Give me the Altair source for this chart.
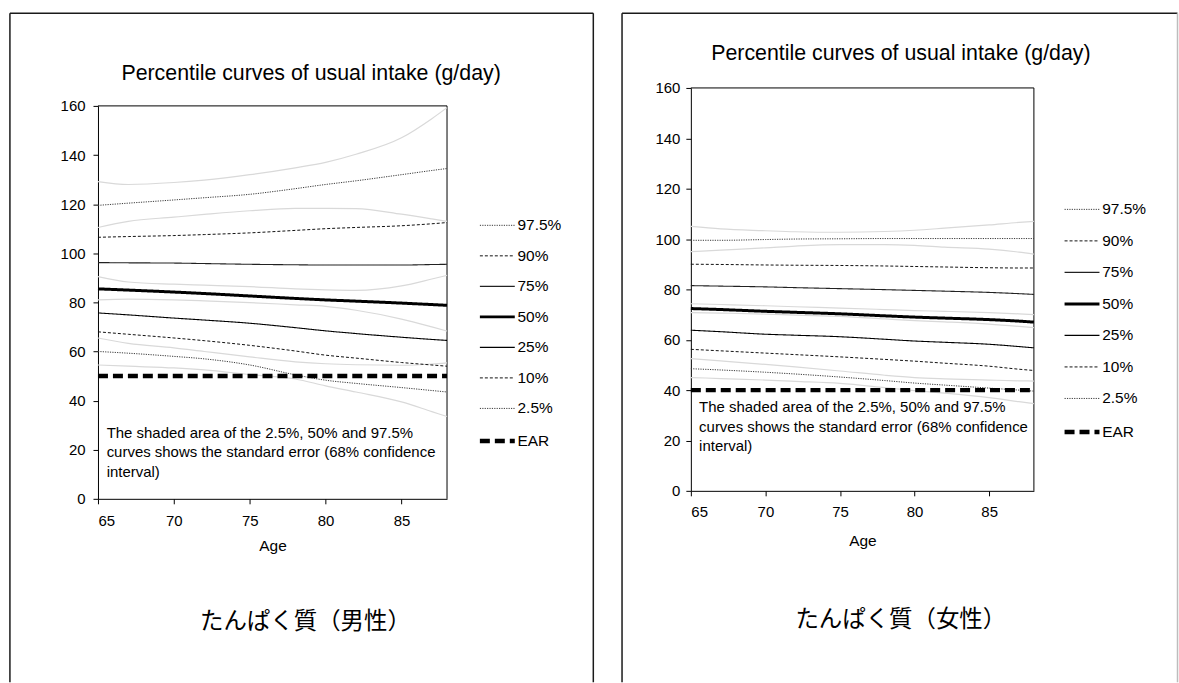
import altair as alt
import pandas as pd

# ---- shared axes / labels -------------------------------------------------
AGES = [65, 67, 70, 72, 75, 78, 80, 82, 85, 87, 88]
LEVELS = ["97.5%", "90%", "75%", "50%", "25%", "10%", "2.5%"]
SERIES = LEVELS + ["EAR"]
X_TICKS = [65, 70, 75, 80, 85]
Y_TICKS = [0, 20, 40, 60, 80, 100, 120, 140, 160]

TITLE = "Percentile curves of usual intake (g/day)"
NOTE = ("The shaded area of the 2.5%, 50% and 97.5%\n"
        "curves shows the standard error (68% confidence\n"
        "interval)")
LABEL_MEN = "たんぱく質（男性）"
LABEL_WOMEN = "たんぱく質（女性）"

# ---- men: percentile curves (g/day) ---------------------------------------
men_p975 = [119.5, 120.4, 121.7, 122.6, 124.0, 126.3, 128.0, 129.5, 132.0, 133.7, 134.5]
men_p90 = [106.5, 106.8, 107.2, 107.6, 108.3, 109.3, 110.0, 110.5, 111.2, 112.0, 112.5]
men_p75 = [96.2, 96.1, 96.0, 95.8, 95.5, 95.3, 95.2, 95.2, 95.2, 95.4, 95.5]
men_p50 = [85.5, 85.0, 84.2, 83.6, 82.6, 81.6, 81.0, 80.5, 79.7, 79.1, 78.8]
men_p25 = [75.7, 74.9, 73.6, 72.8, 71.5, 69.7, 68.4, 67.3, 65.8, 64.9, 64.5]
men_p10 = [68.0, 67.0, 65.5, 64.4, 62.5, 60.2, 58.5, 57.3, 55.5, 54.5, 54.0]
men_p025 = [60.0, 59.3, 58.0, 57.0, 54.5, 50.5, 48.3, 47.0, 45.3, 44.1, 43.5]
men_ear = 50

# men: standard-error bounds
men_p975_hi = [129.2, 128.0, 128.8, 129.8, 132.0, 134.8, 137.0, 140.3, 147.0, 154.8, 159.3]
men_p975_lo = [110.5, 113.0, 114.7, 115.8, 117.3, 118.3, 118.3, 118.2, 115.9, 114.0, 113.0]
men_p50_hi = [90.5, 88.3, 87.4, 87.0, 86.4, 85.5, 85.1, 84.9, 86.7, 89.5, 91.0]
men_p50_lo = [81.0, 81.3, 81.0, 80.6, 79.9, 79.0, 78.4, 76.8, 73.2, 70.0, 68.3]
men_p025_hi = [65.5, 63.3, 61.5, 60.0, 57.8, 55.8, 55.0, 54.6, 54.4, 54.9, 55.4]
men_p025_lo = [54.5, 54.0, 53.3, 52.5, 50.6, 48.8, 46.0, 43.5, 39.5, 35.5, 33.5]

# ---- women: percentile curves (g/day) -------------------------------------
women_p975 = [99.5, 99.5, 99.8, 100.0, 100.1, 100.2, 100.2, 100.2, 100.2, 100.2, 100.2]
women_p90 = [90.0, 89.9, 89.7, 89.6, 89.5, 89.3, 89.1, 88.9, 88.6, 88.5, 88.5]
women_p75 = [81.5, 81.3, 81.0, 80.7, 80.3, 79.9, 79.6, 79.3, 78.8, 78.3, 78.0]
women_p50 = [72.4, 72.0, 71.3, 70.9, 70.3, 69.5, 69.0, 68.6, 68.0, 67.4, 67.0]
women_p25 = [63.8, 63.2, 62.2, 61.8, 61.2, 60.2, 59.5, 59.0, 58.2, 57.3, 56.8]
women_p10 = [56.2, 55.6, 54.7, 54.1, 53.2, 52.2, 51.5, 50.7, 49.5, 48.3, 47.8]
women_p025 = [48.5, 48.0, 47.1, 46.4, 45.2, 43.8, 42.8, 42.0, 40.8, 40.0, 39.6]
women_ear = 40

# women: standard-error bounds
women_p975_hi = [105.0, 104.0, 103.3, 102.9, 102.7, 103.0, 103.5, 104.3, 105.6, 106.6, 107.0]
women_p975_lo = [95.0, 95.6, 96.5, 97.2, 97.8, 97.8, 97.5, 96.8, 96.0, 94.8, 94.0]
women_p50_hi = [74.3, 74.0, 73.5, 73.1, 72.6, 72.0, 71.6, 71.3, 70.8, 70.3, 70.0]
women_p50_lo = [70.8, 70.6, 70.2, 69.8, 69.3, 68.3, 67.6, 67.1, 66.2, 65.3, 64.8]
women_p025_hi = [52.5, 51.6, 50.2, 49.2, 47.6, 45.9, 45.0, 44.5, 44.0, 43.7, 43.6]
women_p025_lo = [45.0, 44.6, 44.0, 43.5, 42.7, 41.0, 39.8, 38.8, 37.0, 35.4, 34.6]

# ---- line styles per series -----------------------------------------------
STYLE_COLOR = ["#3a3a3a", "#111111", "#222222", "#000000", "#000000", "#111111", "#3a3a3a", "#000000"]
STYLE_DASH = [[1.2, 1.2], [3, 2], [1, 0], [1, 0], [1, 0], [3, 2], [1.2, 1.2], [10, 5]]
STYLE_WIDTH = [1, 1, 1.1, 3, 1.1, 1, 1, 4.5]
SE_COLOR = "#d9d9d9"

FONT = "Liberation Sans"
CJK_FONT = "Noto Sans CJK JP"


def curve_table(values, ear):
    rows = []
    for name, vals in zip(LEVELS, values):
        for a, v in zip(AGES, vals):
            rows.append({"age": a, "value": v, "series": name})
    for a in (AGES[0], AGES[-1]):
        rows.append({"age": a, "value": ear, "series": "EAR"})
    return pd.DataFrame(rows)


def bound_table(bounds):
    rows = []
    for name, vals in bounds.items():
        for a, v in zip(AGES, vals):
            rows.append({"age": a, "value": v, "bound": name})
    return pd.DataFrame(rows)


def panel(curves, bounds, label, g):
    x = alt.X("age:Q",
              scale=alt.Scale(domain=[65, 88], nice=False, zero=False),
              axis=alt.Axis(values=X_TICKS, title="Age", labelPadding=g["xlp"],
                            titlePadding=g["xtp"]))
    y = alt.Y("value:Q",
              scale=alt.Scale(domain=[0, 160], nice=False, range=[g["h"], g["ytop"]]),
              axis=alt.Axis(values=Y_TICKS, title=None, labelPadding=g["ylp"]))

    one = pd.DataFrame({"k": [0]})
    # outer frame around the whole panel (open at the bottom)
    frame_top = alt.Chart(one).mark_rule(color="#1a1a1a", strokeWidth=1.5).encode(
        x=alt.value(g["bx1"]), x2=alt.value(g["bx2"]), y=alt.value(g["by1"]))
    frame_left = alt.Chart(one).mark_rule(color="#1a1a1a", strokeWidth=1.5).encode(
        x=alt.value(g["bx1"]), y=alt.value(g["by1"]), y2=alt.value(g["by2"]))
    frame_right = alt.Chart(one).mark_rule(color=g["rcol"], strokeWidth=1.5).encode(
        x=alt.value(g["bx2"]), y=alt.value(g["by1"]), y2=alt.value(g["by2"]))
    # top and right edges of the plotting area
    plot_top = alt.Chart(one).mark_rule(color="black", strokeWidth=1).encode(
        x=alt.value(0), x2=alt.value(g["w"]), y=alt.value(g["ytop"]))
    plot_right = alt.Chart(one).mark_rule(color="black", strokeWidth=1).encode(
        x=alt.value(g["w"]), y=alt.value(g["ytop"]), y2=alt.value(g["h"]))

    se = alt.Chart(bounds).mark_line(color=SE_COLOR, strokeWidth=1.2,
                                     interpolate="monotone").encode(
        x=x, y=y, detail="bound:N")

    legend = alt.Legend(title=None, orient="none", legendX=g["lx"], legendY=g["ly"],
                        symbolType="M-6,0H1", symbolSize=100, labelFont=FONT,
                        labelFontSize=15.5, labelColor="black", labelOffset=0,
                        rowPadding=g["rp"])
    lines = alt.Chart(curves).mark_line(interpolate="monotone").encode(
        x=x, y=y,
        color=alt.Color("series:N", scale=alt.Scale(domain=SERIES, range=STYLE_COLOR),
                        legend=legend),
        strokeDash=alt.StrokeDash("series:N", scale=alt.Scale(domain=SERIES, range=STYLE_DASH),
                                  legend=legend),
        strokeWidth=alt.StrokeWidth("series:N",
                                    scale=alt.Scale(type="ordinal", domain=SERIES,
                                                    range=STYLE_WIDTH),
                                    legend=legend),
    )

    note = alt.Chart(pd.DataFrame({"t": [NOTE]})).mark_text(
        align="left", baseline="alphabetic", lineBreak="\n", lineHeight=19.5,
        font=FONT, fontSize=15, color="black").encode(
        x=alt.value(g["nx"]), y=alt.value(g["ny"]), text="t:N")

    title = alt.Chart(pd.DataFrame({"t": [TITLE]})).mark_text(
        align="center", baseline="middle", font=FONT, fontSize=21.4, color="black").encode(
        x=alt.value(g["tx"]), y=alt.value(g["ty"]), text="t:N")

    caption = alt.Chart(pd.DataFrame({"t": [label]})).mark_text(
        align="center", baseline="middle", font=CJK_FONT, fontSize=23.5, color="black").encode(
        x=alt.value(g["cx"]), y=alt.value(g["cy"]), text="t:N")

    return alt.layer(frame_top, frame_left, frame_right, plot_top, plot_right, se, lines,
                     note, title, caption).properties(width=g["w"], height=g["h"])


men_curves = curve_table([men_p975, men_p90, men_p75, men_p50, men_p25, men_p10, men_p025], men_ear)
men_bounds = bound_table({"97.5 hi": men_p975_hi, "97.5 lo": men_p975_lo,
                          "50 hi": men_p50_hi, "50 lo": men_p50_lo,
                          "2.5 hi": men_p025_hi, "2.5 lo": men_p025_lo})
women_curves = curve_table([women_p975, women_p90, women_p75, women_p50, women_p25, women_p10,
                            women_p025], women_ear)
women_bounds = bound_table({"97.5 hi": women_p975_hi, "97.5 lo": women_p975_lo,
                            "50 hi": women_p50_hi, "50 lo": women_p50_lo,
                            "2.5 hi": women_p025_hi, "2.5 lo": women_p025_lo})

# panel geometry (pixels, relative to each panel's origin)
left_geo = dict(w=350, h=394, ytop=0, bx1=-88.3, bx2=496.7, by1=-93, by2=578, rcol="#1a1a1a",
                tx=213.7, ty=-32.3, nx=8.7, ny=332.7, cx=208, cy=517.7,
                lx=405.2, ly=112, rp=13.6, xlp=10, xtp=10, ylp=8)
right_geo = dict(w=344, h=386, ytop=-18, bx1=-69, bx2=488, by1=-93, by2=578, rcol="#bdbdbd",
                 tx=210.6, ty=-52.3, nx=8.3, ny=307.3, cx=210.5, cy=516,
                 lx=397, ly=96, rp=14.6, xlp=9, xtp=14, ylp=6)

chart = alt.hconcat(
    panel(men_curves, men_bounds, LABEL_MEN, left_geo),
    panel(women_curves, women_bounds, LABEL_WOMEN, right_geo),
    spacing=25.5,
).resolve_scale(
    color="independent", strokeDash="independent", strokeWidth="independent",
).resolve_legend(
    color="independent", strokeDash="independent", strokeWidth="independent",
).properties(
    padding={"left": 8.25, "top": 10.25, "right": 0, "bottom": 0},
    background="white",
).configure_view(
    stroke="transparent",
).configure_axis(
    grid=False, domainColor="black", tickColor="black", tickSize=5,
    labelFont=FONT, labelFontSize=15, labelColor="black",
    titleFont=FONT, titleFontSize=15.5, titleFontWeight="normal", titleColor="black",
)

chart.save("out.html", embed_options={"renderer": "svg", "actions": False})
